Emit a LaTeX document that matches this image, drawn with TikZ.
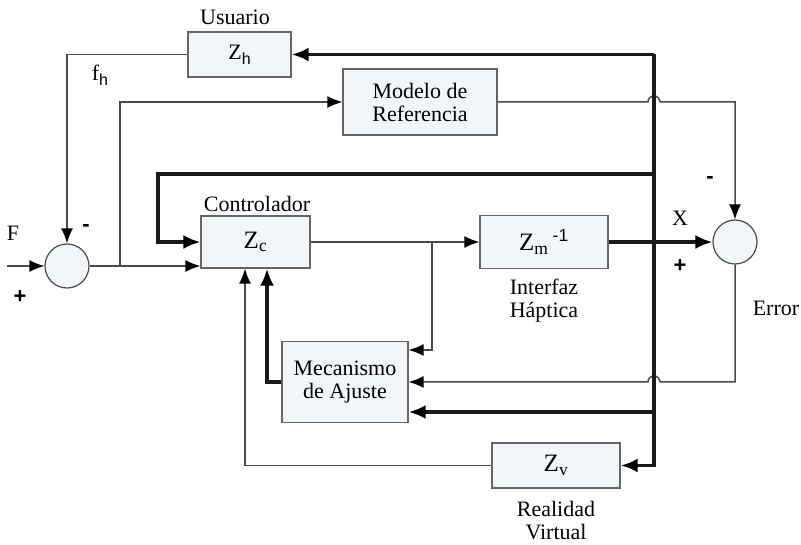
\documentclass[tikz,border=0pt]{standalone}
\usepackage{fontspec}
\setmainfont{Liberation Serif}
\newfontfamily\signfont{Liberation Sans}
\usetikzlibrary{arrows.meta}
\definecolor{boxfill}{HTML}{F2F6FA}
\definecolor{thinline}{HTML}{4A4A4A}
\definecolor{thickline}{HTML}{1A1A1A}
\newcommand{\bigz}{\fontsize{25}{28}\selectfont Z}

\begin{document}
\begin{tikzpicture}[x=1pt,y=-1pt,>={Latex[length=15pt,width=12pt,color=black]},font=\fontsize{22}{23}\selectfont]
    \tikzstyle{block}=[draw=thinline!85,fill=boxfill,line width=1.2pt,inner sep=0pt,align=center]
    \tikzstyle{sum}=[circle,draw=thinline,fill=boxfill,line width=1.2pt,minimum size=44pt,inner sep=0pt]
    \tikzstyle{signal}=[draw=thinline,line width=1.5pt]
    \tikzstyle{power}=[draw=thickline,line width=3.5pt,>={Latex[length=17pt,width=14pt,color=black]}]
    \tikzstyle{sign}=[inner sep=0pt,font=\signfont\bfseries\fontsize{22}{22}\selectfont]
    \useasboundingbox (0,0) rectangle (801,545);

    % blocks
    \foreach \name/\x/\y/\w/\h/\txt in {zh/239.5/54.5/103/45/{Z\raisebox{-5pt}{\signfont\fontsize{16}{16}\selectfont h}},
            mod/420/102/154/66/{Modelo de\\Referencia},
            zc/255.5/242/109/52/{\bigz\textsubscript{c}},
            zm/544/242/128/53/{\bigz\textsubscript{m}\,\textsuperscript{\signfont -1}},
            mec/345/382/126/81/{Mecanismo\\de Ajuste},
            zv/556/465.5/128/45/{\bigz\textsubscript{v}}}
        \node[block,minimum width=\w pt,minimum height=\h pt] (\name) at (\x,\y) {\txt};

    \node[sum] (s1) at (67,266) {};
    \node[sum] (s2) at (735,242) {};

    % labels
    \foreach \x/\y/\txt [count=\i] in {235/17/Usuario, 257/204/Controlador, 544/301/{Interfaz\\Háptica},
            556/521/{Realidad\\Virtual}, 776/308/Error, 13/233/F, 680/218/X,
            100/75/{f\raisebox{-5pt}{\signfont\fontsize{16}{16}\selectfont h}}}
        \node[align=center] (lbl-\i) at (\x,\y) {\txt};
    \foreach \x/\y/\txt [count=\i] in {86/228/-, 20/297/+, 710/180/-, 680/266/+}
        \node[sign] (sgn-\i) at (\x,\y) {\txt};

    \coordinate (in) at (7,266);
    \coordinate (j1) at (120,266);
    \coordinate (j2) at (432,242);
    \coordinate (top) at (654,54.5);
    \coordinate (k1) at (654,174);
    \coordinate (k2) at (158,174);
    \coordinate (k3) at (654,412);
    \coordinate (hop1) at (654,102);
    \coordinate (hop2) at (654,382);

    % thin signals
    \draw[signal,->] (in) -- (s1.west);
    \draw[signal,->] (s1.east) -- (s1 -| zc.west);
    \draw[signal,->] (j1) |- (mod.west);
    \draw[signal,->] (zh.west) -| (s1.north);
    \draw[signal,->] (zc.east) -- (zm.west);
    \draw[signal,->] (j2) |- ([yshift=32pt]mec.east);
    \draw[signal,->] (zv.west) -| ([xshift=-10.5pt]zc.south);
    \draw[signal,->] (mod.east) -- ([xshift=-6pt]hop1) arc (180:0:6pt) -- (hop1 -| s2) -- (s2.north);
    \draw[signal,->] (s2.south) -- (s2.south |- hop2) -- ([xshift=6pt]hop2) arc (0:180:6pt) -- (hop2 -| mec.east);

    % thick signals
    \draw[power,->] (top) -- (zh.east);
    \draw[power,->] (top) |- (zv.east);
    \draw[power,->] (k1) -- (k2) |- (zc.west);
    \draw[power,->] (k3) -- (k3 -| mec.east);
    \draw[power,->] (zm.east) -- (s2.west);
    \draw[power,->] (mec.west) -| ([xshift=11.5pt]zc.south);
\end{tikzpicture}
\end{document}
